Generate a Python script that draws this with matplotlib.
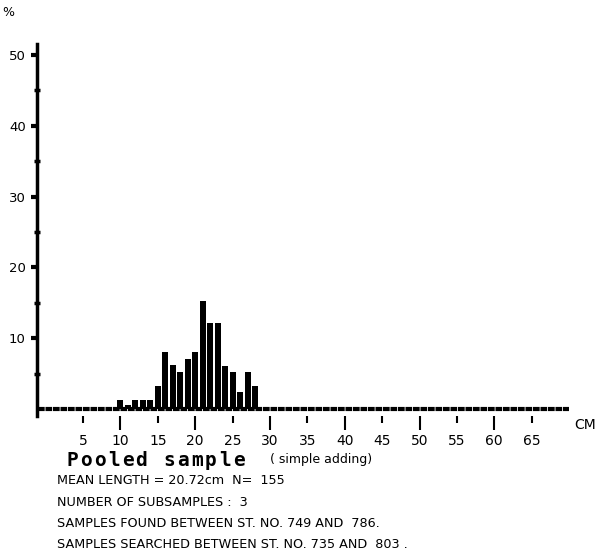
import matplotlib
matplotlib.use('Agg')
import matplotlib.pyplot as plt

# length classes (cm) and percentage of the pooled sample
lengths = [10, 11, 12, 13, 14, 15, 16, 17, 18, 19, 20, 21, 22, 23, 24, 25, 26, 27, 28]
percent = [1.3, 0.6, 1.3, 1.3, 1.3, 3.3, 8.1, 6.2, 5.2, 7.1, 8.0, 15.3, 12.2, 12.2, 6.0, 5.2, 2.4, 5.2, 3.3]

y_major = [10, 20, 30, 40, 50]
y_minor = [5, 15, 25, 35, 45]
x_long = [10, 20, 30, 40, 50, 60]
x_short = [5, 15, 25, 35, 45, 55, 65]

title = "Pooled sample"
subtitle = "( simple adding)"
info_lines = [
    "MEAN LENGTH = 20.72cm  N=  155",
    "NUMBER OF SUBSAMPLES :  3",
    "SAMPLES FOUND BETWEEN ST. NO. 749 AND  786.",
    "SAMPLES SEARCHED BETWEEN ST. NO. 735 AND  803 .",
]

W, H = 599, 556
fig = plt.figure(figsize=(W / 100, H / 100), dpi=100)
font = 'DejaVu Sans'

def fx(px):
    return px / W

def fy(py):
    return 1 - py / H

# axes placed so that 0 cm sits at px ~45.6 and 7.48 px per cm
ax = fig.add_axes([fx(37), fy(416), 1 - fx(37), fy(44.4) - fy(416)])
ax.set_xlim(-1.15, 74.0)
ax.set_ylim(-1, 51.5)

ax.bar(lengths, percent, width=0.8, color='black')
ax.hlines(0, -1.0, 70, color='black', linewidth=3, linestyles=(0, (1.6, 0.2)))

for s in ['top', 'right', 'bottom']:
    ax.spines[s].set_visible(False)
ax.spines['left'].set_linewidth(2.5)

ax.set_yticks(y_major)
ax.set_yticklabels([str(v) for v in y_major], fontfamily=font, fontsize=9.5)
ax.set_yticks(y_minor, minor=True)
ax.tick_params(axis='y', which='major', direction='out', length=4, width=3, pad=4)
ax.tick_params(axis='y', which='minor', direction='inout', length=4, width=2.5)

ax.set_xticks(x_long)
ax.set_xticklabels([str(v) for v in x_long], fontfamily=font, fontsize=10)
ax.set_xticks(x_short, minor=True)
ax.set_xticklabels([str(v) for v in x_short], minor=True, fontfamily=font, fontsize=10)
ax.tick_params(axis='x', which='major', direction='out', length=10, width=1.5, pad=3)
ax.tick_params(axis='x', which='minor', direction='out', length=5, width=1.5, pad=8)

ax.text(72.1, -1.3, "CM", transform=ax.transData, fontfamily=font, fontsize=10,
        ha='center', va='top')
fig.text(fx(8), fy(12), "%", fontfamily=font, fontsize=9, ha='center', va='center')

# spaced heading, one character at a time
for i, ch in enumerate(title):
    fig.text(fx(72 + i * 13.9), fy(460), ch, fontfamily='DejaVu Sans Mono',
             fontsize=14, fontweight='bold', ha='center', va='center')
fig.text(fx(270), fy(460), subtitle, fontfamily=font, fontsize=9, va='center')

for i, line in enumerate(info_lines):
    fig.text(fx(57), fy(481 + i * 21.3), line, fontfamily=font, fontsize=9.2, va='center')

fig.savefig('out.png', dpi=100)
